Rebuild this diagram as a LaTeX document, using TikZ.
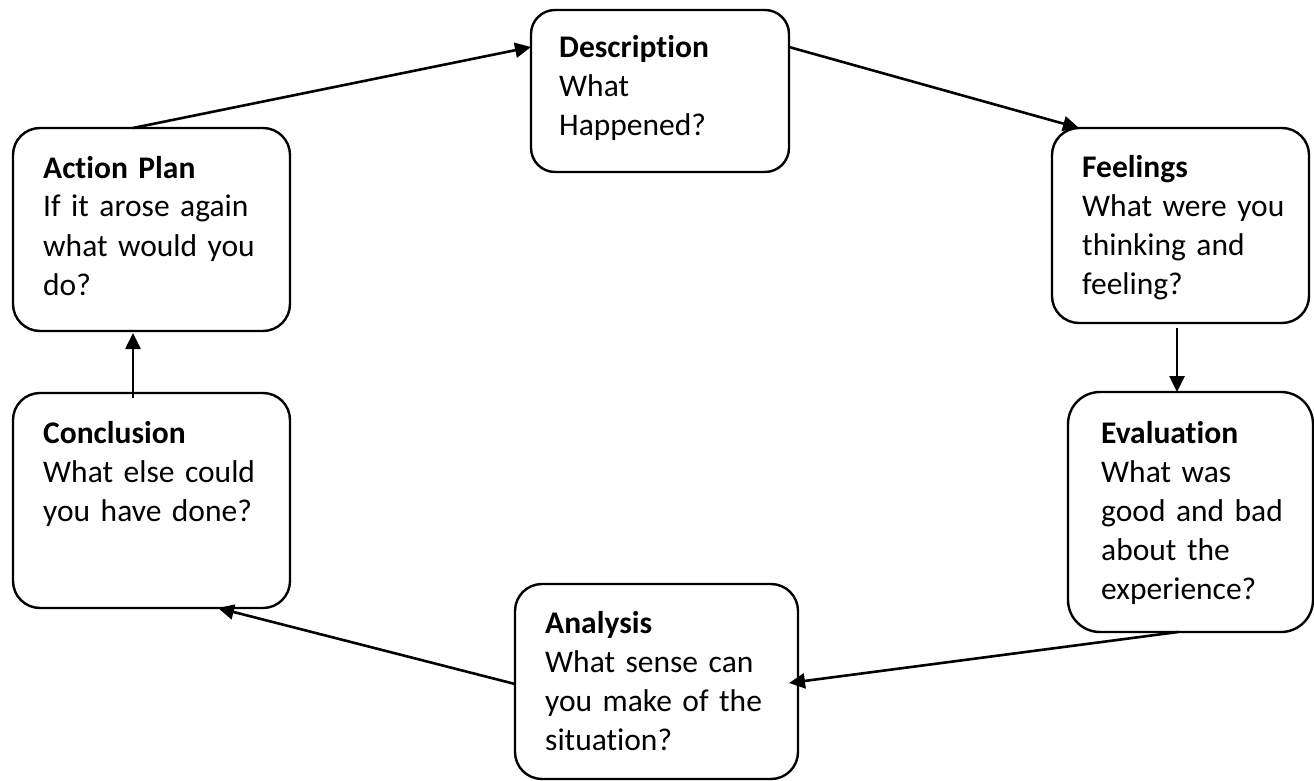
\documentclass[tikz,border=0pt]{standalone}
\usepackage{fontspec}
\setmainfont[Ligatures=NoCommon]{Carlito}
\usetikzlibrary{arrows.meta}
% stage text: Carlito at 31.5pt on a 39pt baseline grid, with tighter word spaces
\newcommand\stagefont{\fontsize{31.5}{39}\selectfont\spaceskip 5pt\relax}

\begin{document}
\begin{tikzpicture}[x=1pt,y=-1pt,
  stage/.style={draw=black, line width=2.4pt, rounded corners=#1, inner sep=0pt,
                outer sep=0pt, anchor=north west},
  stage/.default=27pt,
  caption/.style={anchor=base west, inner sep=0pt, align=left, text width=250pt,
                  font=\stagefont},
  link/.style={line width=2.6pt, -{Triangle[length=16pt,width=15pt]}}]
\useasboundingbox (0,0) rectangle (1314,781);

% the six stages of the reflective cycle
\node[stage=24pt, minimum width=258pt, minimum height=162pt] (desc)  at (531,10)  {};
\node[stage,      minimum width=257pt, minimum height=195pt] (feel)  at (1052,128) {};
\node[stage=32pt, minimum width=245pt, minimum height=240pt] (eval)  at (1068,392) {};
\node[stage,      minimum width=283pt, minimum height=195pt] (anal)  at (515,584)  {};
\node[stage,      minimum width=277pt, minimum height=215pt] (concl) at (13,393)   {};
\node[stage,      minimum width=277pt, minimum height=203pt] (act)   at (13,128)   {};

% their texts
\node[caption] (desc-t)  at (559,58)   {\textbf{Description}\\What\\Happened?};
\node[caption] (feel-t)  at (1082,177) {\textbf{Feelings}\\What were you\\thinking and\\feeling?};
\node[caption] (eval-t)  at (1101,443) {\textbf{Evaluation}\\What was\\good and bad\\about the\\experience?};
\node[caption] (anal-t)  at (545,633)  {\textbf{Analysis}\\What sense can\\you make of the\\situation?};
\node[caption] (concl-t) at (43,443)   {\textbf{Conclusion}\\What else could\\you have done?};
\node[caption] (act-t)   at (43,178)   {\textbf{Action Plan}\\If it arose again\\what would you\\do?};

% the cycle
\draw[link] ([xshift=120pt]act.north west) -- ([yshift=-37pt]desc.north west);
\draw[link] ([yshift=-37pt]desc.north east) -- ([xshift=27pt]feel.north west);
\draw[link] ([xshift=125pt,yshift=-5pt]feel.south west) -- ([xshift=109pt]eval.north west);
\draw[link] ([xshift=110pt]eval.south west) -- ([xshift=-9pt,yshift=-1.5pt]anal.east);
\draw[link] ([yshift=-2.5pt]anal.west) -- ([xshift=205pt]concl.south west);
\draw[link] ([xshift=120pt,yshift=-5pt]concl.north west) -- ([xshift=120pt,yshift=-2pt]act.south west);
\end{tikzpicture}
\end{document}
